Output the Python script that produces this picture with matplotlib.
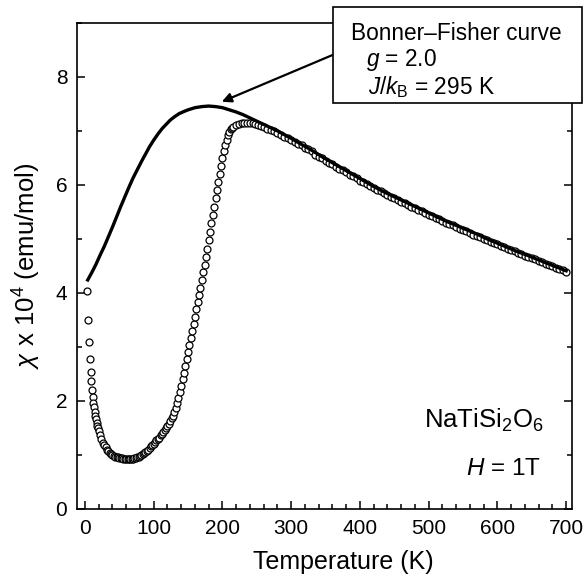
import matplotlib
matplotlib.use("Agg")
import matplotlib.pyplot as plt
import matplotlib.patches as patches
from matplotlib.ticker import MultipleLocator

plt.rcParams['font.family'] = ['Liberation Sans', 'DejaVu Sans']
plt.rcParams['mathtext.fontset'] = 'custom'
plt.rcParams['mathtext.rm'] = 'Liberation Sans'
plt.rcParams['mathtext.it'] = 'Liberation Sans:italic'
plt.rcParams['mathtext.bf'] = 'Liberation Sans:bold'

# Bonner-Fisher curve (g = 2.0, J/kB = 295 K)
bf_T = [4, 10, 16, 22, 28, 34, 40, 46, 52, 58, 64, 70, 76, 82, 88, 94, 100,
        106, 112, 118, 124, 130, 137, 144, 150, 160, 170, 180, 190, 200, 210,
        220, 230, 240, 250, 260, 270, 280, 290, 300, 315, 330, 345, 360, 375,
        390, 405, 420, 435, 450, 465, 480, 495, 510, 525, 540, 555, 570, 585,
        600, 615, 630, 645, 660, 680, 700]
bf_chi = [4.24, 4.38, 4.53, 4.70, 4.86, 5.04, 5.22, 5.41, 5.60, 5.78, 5.96, 6.13,
          6.28, 6.43, 6.57, 6.71, 6.83, 6.94, 7.04, 7.12, 7.20, 7.26, 7.32, 7.36,
          7.39, 7.43, 7.45, 7.46, 7.45, 7.43, 7.39, 7.35, 7.30, 7.24, 7.18, 7.12,
          7.06, 7.00, 6.93, 6.86, 6.75, 6.64, 6.52, 6.41, 6.30, 6.19, 6.08, 5.97,
          5.87, 5.78, 5.69, 5.60, 5.51, 5.42, 5.33, 5.25, 5.17, 5.09, 5.00, 4.92,
          4.84, 4.76, 4.69, 4.61, 4.51, 4.41]

# measured chi x 10^4, H = 1 T
temp_lo = [3, 5, 6, 7, 8, 9, 10, 11, 12, 13, 14, 15, 16, 17, 18, 19, 20, 22, 24,
           26, 28, 30, 32, 34, 36, 38, 40, 42, 44, 46, 48, 50, 52, 54, 56, 58, 60,
           62, 64, 66, 68, 70, 72, 74, 76, 78, 80, 82, 84, 86, 88, 90, 92, 94, 96,
           98, 100, 102, 104, 106, 108, 110, 112, 114, 116, 118, 120, 122, 124,
           126, 128, 130]
chi_lo = [4.04, 3.50, 3.10, 2.78, 2.54, 2.36, 2.20, 2.08, 1.97, 1.88, 1.80, 1.73,
          1.66, 1.60, 1.54, 1.49, 1.44, 1.36, 1.29, 1.23, 1.18, 1.14, 1.10, 1.07,
          1.04, 1.02, 1.00, 0.985, 0.97, 0.96, 0.955, 0.945, 0.94, 0.935, 0.93,
          0.93, 0.925, 0.92, 0.92, 0.92, 0.925, 0.93, 0.935, 0.945, 0.96, 0.97,
          0.985, 1.00, 1.02, 1.04, 1.06, 1.08, 1.10, 1.13, 1.16, 1.19, 1.21, 1.24,
          1.27, 1.29, 1.32, 1.36, 1.39, 1.42, 1.46, 1.50, 1.54, 1.58, 1.63, 1.68,
          1.73, 1.79]

temp_mid = [132, 134, 136, 138, 140, 142, 144, 146, 148, 150, 152, 154, 156, 158,
            160, 162, 164, 166, 168, 170, 172, 174, 176, 178, 180, 182, 184, 186,
            188, 190, 192, 194, 196, 198, 200, 202, 204, 206, 208, 210, 212, 214]
chi_mid = [1.87, 1.96, 2.06, 2.17, 2.28, 2.40, 2.52, 2.65, 2.78, 2.91, 3.04, 3.17,
           3.30, 3.43, 3.56, 3.70, 3.83, 3.96, 4.10, 4.24, 4.38, 4.52, 4.67, 4.82,
           4.98, 5.13, 5.29, 5.44, 5.60, 5.75, 5.90, 6.05, 6.20, 6.35, 6.49, 6.62,
           6.74, 6.84, 6.92, 6.98, 7.03, 7.06]

temp_hi = [216, 220, 224, 228, 232, 236, 240, 244, 248, 252, 256, 260, 265, 270,
           275, 280, 285, 290, 295, 300, 305, 310, 315, 320, 325, 330, 335, 340,
           345, 350, 355, 360, 365, 370, 375, 380, 385, 390, 395, 400, 405, 410,
           415, 420, 425, 430, 435, 440, 445, 450, 455, 460, 465, 470, 475, 480,
           485, 490, 495, 500, 505, 510, 515, 520, 525, 530, 535, 540, 545, 550,
           555, 560, 565, 570, 575, 580, 585, 590, 595, 600, 605, 610, 615, 620,
           625, 630, 635, 640, 645, 650, 655, 660, 665, 670, 675, 680, 685, 690,
           695, 700]
chi_hi = [7.08, 7.11, 7.13, 7.14, 7.15, 7.15, 7.15, 7.14, 7.13, 7.11, 7.09, 7.07,
          7.04, 7.02, 6.99, 6.96, 6.93, 6.89, 6.86, 6.83, 6.80, 6.76, 6.73, 6.69,
          6.66, 6.62, 6.56, 6.52, 6.49, 6.45, 6.41, 6.38, 6.34, 6.30, 6.27, 6.23,
          6.19, 6.16, 6.12, 6.08, 6.05, 6.01, 5.98, 5.94, 5.91, 5.88, 5.85, 5.82,
          5.78, 5.75, 5.72, 5.69, 5.66, 5.63, 5.60, 5.57, 5.54, 5.51, 5.48, 5.45,
          5.42, 5.39, 5.36, 5.33, 5.30, 5.28, 5.25, 5.22, 5.19, 5.16, 5.14, 5.11,
          5.08, 5.06, 5.03, 5.00, 4.98, 4.95, 4.92, 4.90, 4.87, 4.85, 4.82, 4.80,
          4.77, 4.74, 4.72, 4.69, 4.67, 4.64, 4.62, 4.59, 4.57, 4.54, 4.52, 4.49,
          4.47, 4.44, 4.42, 4.39]

temp = temp_lo + temp_mid + temp_hi
chi = chi_lo + chi_mid + chi_hi

fig = plt.figure(figsize=(5.88, 5.87), dpi=100)
ax = fig.add_axes([0.131, 0.133, 0.842, 0.828])

ax.plot(temp, chi, linestyle='none', marker='o', markersize=5.0,
        markerfacecolor='white', markeredgecolor='black', markeredgewidth=0.9,
        zorder=2)
ax.plot(bf_T, bf_chi, color='black', lw=2.4, zorder=3)

ax.set_xlim(-11.6, 708.7)
ax.set_ylim(0, 9)
ax.xaxis.set_major_locator(MultipleLocator(100))
ax.xaxis.set_minor_locator(MultipleLocator(20))
ax.yaxis.set_major_locator(MultipleLocator(2))
ax.yaxis.set_minor_locator(MultipleLocator(1))
ax.tick_params(which='both', direction='in', right=True, top=False,
               labelsize=15, width=1.1)
ax.tick_params(which='major', length=6, pad=7)
ax.tick_params(which='minor', length=3.5)
for s in ax.spines.values():
    s.set_linewidth(1.2)

ax.set_xlabel('Temperature (K)', fontsize=18)
ax.set_ylabel(r'$\chi$ x 10$^4$ (emu/mol)', fontsize=18.5, labelpad=9)
ax.xaxis.set_label_coords(0.537, -0.085)

# legend box with the fit parameters
box = patches.Rectangle((361, 7.52), 362, 1.78, transform=ax.transData,
                        facecolor='white', edgecolor='black', lw=1.2,
                        clip_on=False, zorder=5)
ax.add_patch(box)
ax.text(387, 8.81, 'Bonner\u2013Fisher curve', fontsize=16.3, va='center',
        ha='left', zorder=6, clip_on=False)
ax.text(409, 8.31, r'$g$ = 2.0', fontsize=16.3, va='center', ha='left',
        zorder=6, clip_on=False)
ax.text(412, 7.81, r'$J/k_{\rm B}$ = 295 K', fontsize=16.3, va='center',
        ha='left', zorder=6, clip_on=False)
ax.annotate('', xy=(199, 7.54), xytext=(361, 8.41),
            arrowprops=dict(arrowstyle='-|>', color='black', lw=1.6,
                            mutation_scale=14, shrinkA=0, shrinkB=0),
            zorder=4, annotation_clip=False)

ax.text(581, 1.50, r'NaTiSi$_2$O$_6$', fontsize=18.5, ha='center',
        va='baseline')
ax.text(609, 0.63, r'$H$ = 1T', fontsize=17.5, ha='center', va='baseline')

fig.savefig('out.png', dpi=100)
